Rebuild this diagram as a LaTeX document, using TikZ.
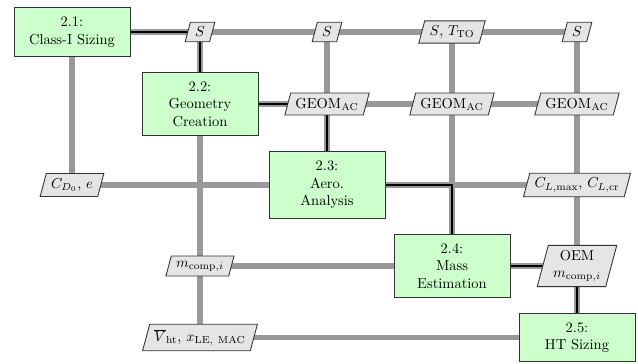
\documentclass[tikz,border=0pt]{standalone}
\usetikzlibrary{shapes.geometric,backgrounds}

\begin{document}
\begin{tikzpicture}[
  x=0.69pt,y=-0.69pt,
  discipline/.style={draw=black!80,fill=green!20,line width=.6pt,text width=67pt,align=center,inner sep=6.5pt},
  datum/.style={draw=black!80,fill=black!10,line width=.6pt,trapezium,trapezium left angle=75,trapezium right angle=105,align=center,inner sep=3.3pt},
  dataline/.style={black!40,line width=4pt},
  chainline/.style={black,line width=.9pt}
]
  \useasboundingbox (0,0) rectangle (638,364);

  \node[discipline] (sizing) at (72,32) {2.1:\\Class-I Sizing};
  \node[discipline] (geom) at (200,104) {2.2:\\Geometry\\Creation};
  \node[discipline] (aero) at (327,185) {2.3:\\Aero.\\Analysis};
  \node[discipline] (mass) at (452,266) {2.4:\\Mass\\Estimation};
  \node[discipline] (tail) at (577,337.5) {2.5:\\HT Sizing};

  \node[datum] (s2) at (200,32) {$S$};
  \node[datum] (s3) at (327,32) {$S$};
  \node[datum] (s4) at (452,32) {$S$, $T_{\mathrm{TO}}$};
  \node[datum] (s5) at (577,32) {$S$};
  \node[datum] (g3) at (327,104) {GEOM$_{\mathrm{AC}}$};
  \node[datum] (g4) at (452,104) {GEOM$_{\mathrm{AC}}$};
  \node[datum] (g5) at (577,104) {GEOM$_{\mathrm{AC}}$};
  \node[datum] (cd) at (72,185) {$C_{D_0}$, $e$};
  \node[datum] (cl) at (577,185) {$C_{L,\max}$, $C_{L,\mathrm{cr}}$};
  \node[datum] (mc) at (200,266) {$m_{\mathrm{comp},i}$};
  \node[datum] (oem) at (577,266) {OEM\\$m_{\mathrm{comp},i}$};
  \node[datum] (vht) at (200,337.5) {$\overline{V}_{\mathrm{ht}}$, $x_{\mathrm{LE,\ MAC}}$};

  \begin{scope}[on background layer]
    % data flow
    \draw[dataline] (sizing.center) -- (s5.center);
    \draw[dataline] (sizing.center) -- (cd.center);
    \draw[dataline] (s2.center) -- (vht.center);
    \draw[dataline] (s3.center) -- (aero.center);
    \draw[dataline] (s4.center) -- (mass.center);
    \draw[dataline] (s5.center) -- (tail.center);
    \draw[dataline] (geom.center) -- (g5.center);
    \draw[dataline] (cd.center) -- (cl.center);
    \draw[dataline] (mc.center) -- (oem.center);
    \draw[dataline] (vht.center) -- (tail.center);
    % process chain
    \draw[chainline] (sizing.center) -- (s2.center) -- (geom.center);
    \draw[chainline] (geom.center) -- (g3.center) -- (aero.center);
    \draw[chainline] (aero.center) -| (mass.center);
    \draw[chainline] (mass.center) -- (oem.center) -- (tail.center);
  \end{scope}
\end{tikzpicture}
\end{document}
